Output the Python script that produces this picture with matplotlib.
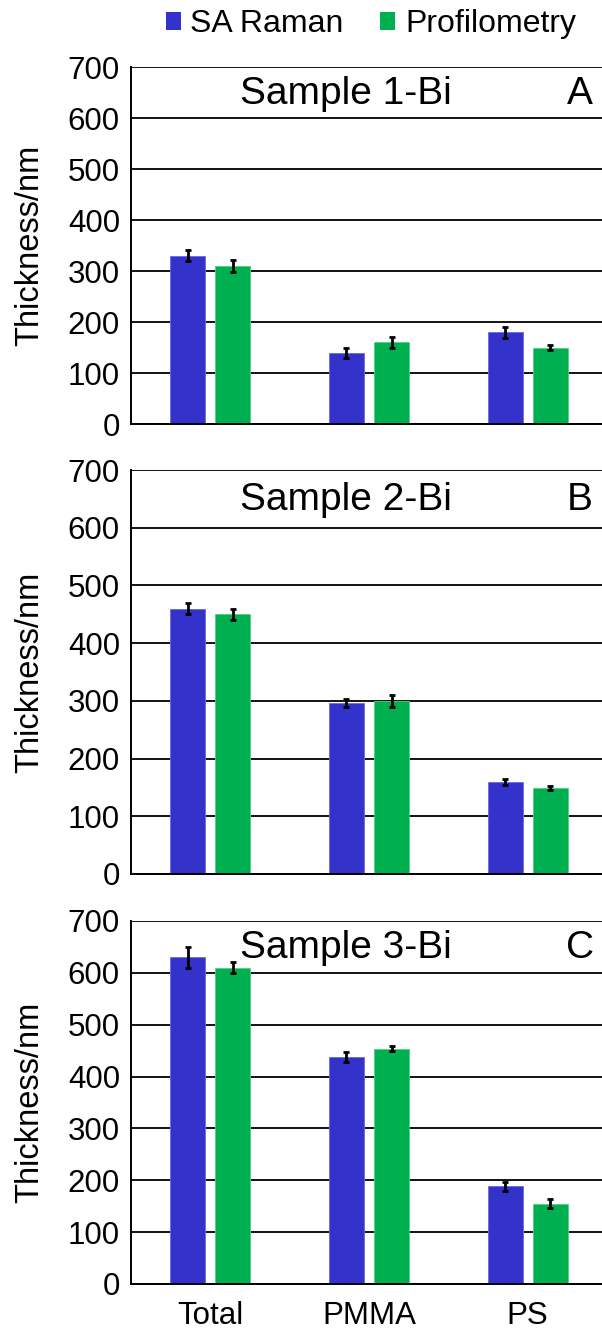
import matplotlib
matplotlib.use("Agg")
import matplotlib.pyplot as plt
import numpy as np
from matplotlib.patches import Patch

plt.rcParams['font.family'] = ['Liberation Sans', 'DejaVu Sans']

categories = ['Total', 'PMMA', 'PS']
series = ['SA Raman', 'Profilometry']
samples = ['Sample 1-Bi', 'Sample 2-Bi', 'Sample 3-Bi']
letters = ['A', 'B', 'C']

# thickness (nm) and error per sample, [Total, PMMA, PS]
raman_1 = [330, 140, 180]
raman_1_err = [11, 10, 11]
profilo_1 = [310, 160, 150]
profilo_1_err = [11, 11, 4]

raman_2 = [460, 296, 159]
raman_2_err = [10, 7, 5]
profilo_2 = [450, 300, 149]
profilo_2_err = [10, 10, 4]

raman_3 = [630, 438, 188]
raman_3_err = [20, 10, 9]
profilo_3 = [610, 454, 155]
profilo_3_err = [10, 4, 9]

yticks = [0, 100, 200, 300, 400, 500, 600, 700]

blue = '#3333cc'
green = '#00b050'

panels = [
    (raman_1, raman_1_err, profilo_1, profilo_1_err),
    (raman_2, raman_2_err, profilo_2, profilo_2_err),
    (raman_3, raman_3_err, profilo_3, profilo_3_err),
]
# [left, bottom, width, height] in figure fractions
boxes = [
    [0.2176, 0.6831, 0.7907, 0.2668],
    [0.2176, 0.3468, 0.7907, 0.3019],
    [0.2176, 0.0404, 0.7907, 0.2713],
]

fig = plt.figure(figsize=(6.02, 13.38), dpi=100)
x = np.arange(len(categories))
w = 0.22
off = 0.142

for i, (r, re, p, pe) in enumerate(panels):
    ax = fig.add_axes(boxes[i])
    ax.set_axisbelow(True)
    ax.yaxis.grid(True, color='black', linewidth=1.3)
    ax.bar(x - off, r, w, color=blue, edgecolor='#6a6ae0', linewidth=0.6, zorder=2)
    ax.bar(x + off, p, w, color=green, edgecolor='#4fcf86', linewidth=0.6, zorder=2)
    ax.errorbar(x - off, r, yerr=re, fmt='none', ecolor='black', elinewidth=2,
                capsize=2, capthick=2, zorder=3)
    ax.errorbar(x + off, p, yerr=pe, fmt='none', ecolor='black', elinewidth=2,
                capsize=2, capthick=2, zorder=3)
    ax.set_xlim(-0.5, 2.5)
    ax.set_ylim(0, 700)
    ax.set_yticks(yticks)
    ax.tick_params(axis='y', length=0, pad=8, labelsize=22.5)
    ax.tick_params(axis='x', length=0, pad=12, labelsize=22.5)
    for s in ['top', 'right']:
        ax.spines[s].set_visible(False)
    ax.spines['left'].set_linewidth(1.4)
    ax.spines['bottom'].set_linewidth(1.4)
    if i == 2:
        ax.set_xticks(x)
        ax.set_xticklabels(categories)
    else:
        ax.set_xticks([])
    ax.set_ylabel('Thickness/nm', fontsize=23.5, labelpad=16)
    ax.text(0.452, 648, samples[i], transform=ax.get_yaxis_transform(),
            fontsize=28, ha='center', va='center')
    ax.text(0.943, 648, letters[i], transform=ax.get_yaxis_transform(),
            fontsize=28, ha='center', va='center')

handles = [Patch(facecolor=blue, label=series[0]),
           Patch(facecolor=green, label=series[1])]
fig.legend(handles=handles, loc='center', bbox_to_anchor=(0.616, 0.982), ncol=2,
           frameon=False, fontsize=23, handlelength=0.47, handleheight=0.47,
           handletextpad=0.3, columnspacing=1.15, borderpad=0.1)

fig.savefig('out.png', dpi=100)
